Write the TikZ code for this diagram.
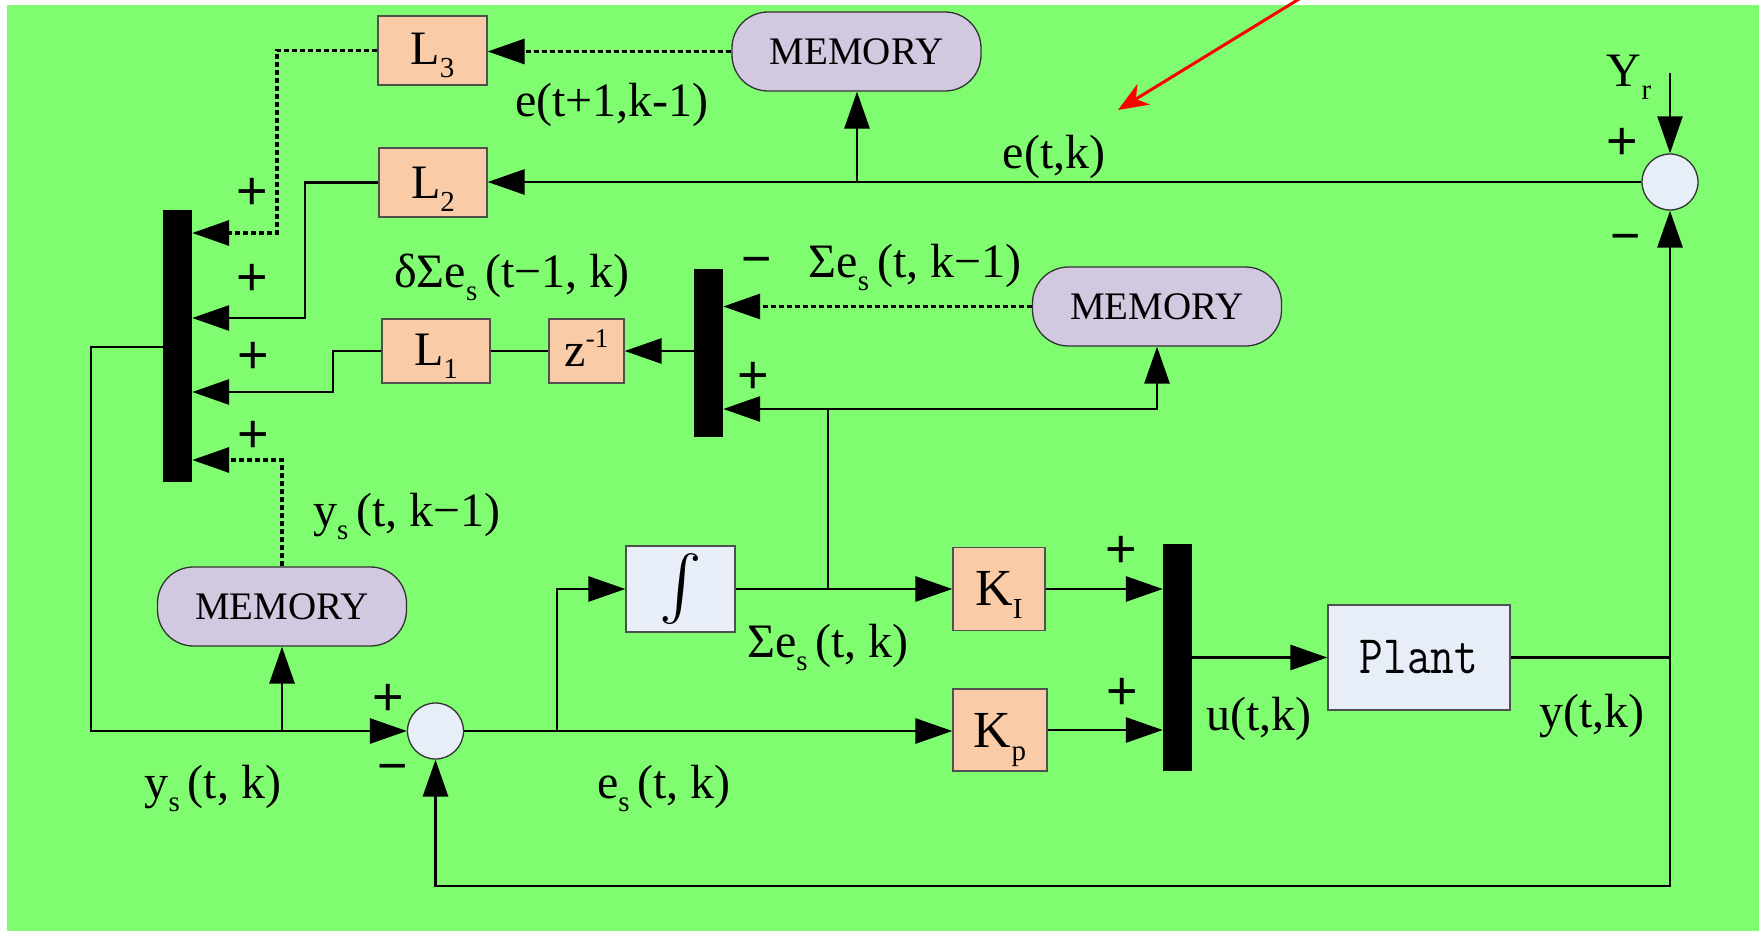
\documentclass[tikz,border=0pt]{standalone}
\usepackage{fontspec}
\setmainfont{Liberation Serif}
\newfontfamily\sansf{Liberation Sans}
\usepackage{graphicx}
\usetikzlibrary{arrows.meta,calc}
\definecolor{bggreen}{RGB}{128,252,112}
\definecolor{peach}{RGB}{249,203,166}
\definecolor{lavender}{RGB}{210,200,224}
\definecolor{lightblue}{RGB}{232,238,248}
\definecolor{boxline}{RGB}{80,80,80}
\newcommand{\lo}[1]{\raisebox{-13pt}{\fontsize{29}{29}\selectfont #1}}
\newcommand{\hi}[1]{\raisebox{19pt}{\fontsize{27}{27}\selectfont #1}}
\begin{document}
\begin{tikzpicture}[x=1pt,y=-1pt,
  pbox/.style={draw=boxline, line width=1.3pt, fill=peach, inner sep=0pt,
    font=\fontsize{48}{48}\selectfont, text depth=0pt},
  bbox/.style={draw=boxline, line width=1.3pt, fill=lightblue, inner sep=0pt},
  mem/.style={draw=black!80, line width=1.3pt, fill=lavender, rounded corners=36pt,
    minimum width=249pt, minimum height=79pt, inner sep=0pt, font=\fontsize{39}{39}\selectfont},
  sumc/.style={circle, draw=black!80, line width=1.3pt, fill=lightblue, minimum size=56pt, inner sep=0pt},
  bar/.style={fill=black, inner sep=0pt, minimum width=29pt},
  wire/.style={line width=2.9pt},
  thinw/.style={line width=2.3pt},
  dots/.style={line width=3.2pt, dash pattern=on 5pt off 3pt},
  arr/.style={-{Triangle[length=37pt,width=25pt]}},
  lab/.style={font=\fontsize{48}{58}\selectfont, anchor=base, inner sep=0pt},
  sgnp/.style={font=\sansf\fontsize{54}{54}\selectfont, inner sep=0pt},
  sgnm/.style={font=\sansf\fontsize{52}{52}\selectfont, inner sep=0pt}]
\useasboundingbox (0,0) rectangle (1759,931);
\fill[white] (0,0) rectangle (1759,931);
\fill[bggreen] (7,5) rectangle (1759,931);

% blocks
\node[pbox, minimum width=109pt, minimum height=69pt, text height=29pt] (L3) at (432.5,50.5) {L\lo{3}};
\node[pbox, minimum width=108pt, minimum height=69pt, text height=31pt] (L2) at (433,182.5) {L\lo{2}};
\node[pbox, minimum width=108pt, minimum height=64pt, text height=28pt] (L1) at (436,351) {L\lo{1}};
\node[pbox, minimum width=75pt, minimum height=64pt, text height=30pt] (z) at (586.5,351) {z\hi{-1}};
\node[mem] (mem1) at (856.5,51.5) {MEMORY};
\node[mem] (mem2) at (1157,306.5) {MEMORY};
\node[mem] (mem3) at (282,606.5) {MEMORY};
\node[sumc] (sum1) at (1670,182) {};
\node[sumc] (sum2) at (435.5,731) {};
\node[bbox, minimum width=109pt, minimum height=86pt] (integ) at (680.5,589) {\scalebox{6.4}{$\int$}};
\node[pbox, minimum width=92pt, minimum height=83pt, text height=33pt, font=\fontsize{52}{52}\selectfont] (KI) at (999,589) {K\lo{I}};
\node[pbox, minimum width=94pt, minimum height=82pt, text height=34pt, font=\fontsize{52}{52}\selectfont] (Kp) at (1000,730) {K\lo{p}};
\node[bbox, minimum width=182pt, minimum height=105pt] (plant) at (1419,657.5) {\ttfamily\fontsize{46}{46}\selectfont\scalebox{1}[1.18]{Plant}};
\node[bar, minimum height=272pt] (barL) at (177.5,346) {};
\node[bar, minimum height=168pt] (barM) at (708.5,353) {};
\node[bar, minimum height=227pt] (barO) at (1177.5,657.5) {};

% helper coordinates
\coordinate (jm1) at (857,182);
\coordinate (cL3) at (277,233);
\coordinate (cL2) at (305,318);
\coordinate (cL1) at (333,392);
\coordinate (cM3) at (282,460);
\coordinate (cfb) at (91,347);
\coordinate (cI) at (557,589);
\coordinate (cS) at (828,409);
\coordinate (cR) at (1670,657.5);
\coordinate (cB) at (1670,886);
\coordinate (yr) at (1670,73);
\coordinate (ra) at (1304,-4);
\coordinate (rb) at (1118,110);

% connectors
\draw[wire,arr] (sum1.west) -- (sum1.west -| L2.east);
\draw[wire,arr] (jm1) -- (jm1 |- mem1.south);
\draw[dots,arr] (mem1.west) -- (mem1.west -| L3.east);
\draw[dots,arr] (L3.west) -| (cL3) -- (cL3 -| barL.east);
\draw[wire,arr] (L2.west) -| (cL2) -- (cL2 -| barL.east);
\draw[wire,arr] (barM.west |- z.east) -- (z.east);
\draw[wire] (z.west) -- (L1.east);
\draw[wire,arr] (L1.west) -| (cL1) -- (cL1 -| barL.east);
\draw[dots,arr] (mem3.north) -- (cM3) -- (cM3 -| barL.east);
\draw[wire,arr] (barL.west |- cfb) -- (cfb) |- (sum2.west);
\draw[wire,arr] (mem3.south |- sum2.west) -- (mem3.south);
\draw[wire,arr] (sum2.east) -- (sum2.east -| Kp.west);
\draw[wire,arr] (cI |- sum2.east) -- (cI) -- (integ.west);
\draw[wire,arr] (integ.east) -- (KI.west);
\draw[thinw] (cS |- integ.east) -- (cS);
\draw[wire,arr] (cS) -- (cS -| barM.east);
\draw[wire,arr] (cS) -| (mem2.south);
\draw[dots,arr] (mem2.west) -- (mem2.west -| barM.east);
\draw[wire,arr] (KI.east) -- (KI.east -| barO.west);
\draw[wire,arr] (Kp.east) -- (Kp.east -| barO.west);
\draw[wire,arr] (barO.east |- plant.west) -- (plant.west);
\draw[wire,arr] (plant.east) -- (cR) -- (sum1.south);
\draw[wire,arr] (cR) -- (cB) -| (sum2.south);
\draw[thinw,arr] (yr) -- (sum1.north);
\draw[red, line width=3pt, -{Stealth[length=30pt,width=24pt,inset=9pt]}] (ra) -- (rb);

% labels
\node[lab] (t1) at (612,117) {e(t+1,k-1)};
\node[lab] (t2) at (1054,168) {e(t,k)};
\node[lab] (t3) at (512,287) {δΣe\lo{s}\,(t−1, k)};
\node[lab] (t4) at (915,277) {Σe\lo{s}\,(t, k−1)};
\node[lab] (t5) at (407,526) {y\lo{s}\,(t, k−1)};
\node[lab] (t6) at (213,798) {y\lo{s}\,(t, k)};
\node[lab] (t7) at (664,798) {e\lo{s}\,(t, k)};
\node[lab] (t8) at (828,657) {Σe\lo{s}\,(t, k)};
\node[lab] (t9) at (1259,730) {u(t,k)};
\node[lab] (t10) at (1592,727) {y(t,k)};
\node[lab] (t11) at (1629,87) {Y\lo{r}};

% signs
\node[sgnp] (p1) at (252,194) {+};
\node[sgnp] (p2) at (252,280) {+};
\node[sgnp] (p3) at (253,358) {+};
\node[sgnp] (p4) at (253,437) {+};
\node[sgnp] (p5) at (753,378) {+};
\node[sgnp] (p6) at (1121,552) {+};
\node[sgnp] (p7) at (1122,694) {+};
\node[sgnp] (p8) at (1622,144) {+};
\node[sgnp] (p9) at (388,700) {+};
\node[sgnm] (m1) at (757,267) {−};
\node[sgnm] (m2) at (1626,244) {−};
\node[sgnm] (m3) at (393,774) {−};
\end{tikzpicture}
\end{document}
